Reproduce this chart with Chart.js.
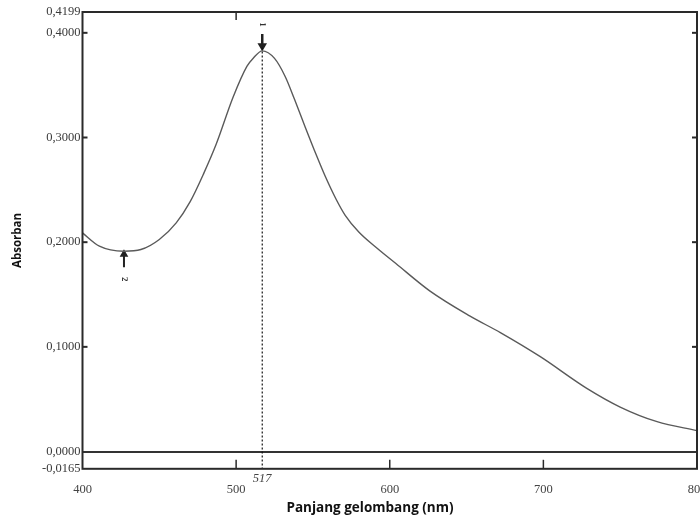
<!DOCTYPE html>
<html>
<head>
<meta charset="utf-8">
<script src="https://cdn.jsdelivr.net/npm/chart.js@4"></script>
<style>
  html, body { margin: 0; padding: 0; background: #fff; overflow: hidden; }
  #wrap { width: 740px; height: 521px; }
</style>
</head>
<body>
<div id="wrap"><canvas id="chartjs" width="740" height="521"></canvas></div>
<script>
// spectrum: wavelength (nm) vs absorbance
const wavelength = [400, 411, 427, 438, 450, 461, 470, 479, 487, 498, 507, 511, 517, 525, 532, 538, 545, 552, 558, 565, 571, 580, 591, 604, 626, 652, 672, 698, 728, 750, 774, 800]
const absorban   = [0.2089, 0.1962, 0.1914, 0.193, 0.2026, 0.2185, 0.2385, 0.266, 0.2935, 0.3385, 0.368, 0.3755, 0.3828, 0.3756, 0.3581, 0.3365, 0.3099, 0.284, 0.263, 0.2413, 0.2257, 0.2095, 0.1952, 0.1796, 0.1535, 0.1296, 0.1136, 0.0906, 0.0606, 0.0425, 0.0285, 0.020]

const xTicks = [400, 500, 517, 600, 700, 800]
const yTicks = [-0.0165, 0, 0.1, 0.2, 0.3, 0.4, 0.4199]
const peakX = 517

// marker arrows (1 = peak, 2 = minimum)
const arrow1 = [[517, 0.399], [517, 0.3875]]
const arrow2 = [[427, 0.176], [427, 0.1885]]
const markerLabels = [["1", 517, 0.408], ["2", 427, 0.1646]]

// inner tick marks on the frame
const innerYTicks = [0.1, 0.2, 0.3, 0.4]
const innerXTicks = [500, 600, 700]

function fmt(v) {
  return v.toFixed(4).replace('.', ',')
}

const frame = {
  id: 'frame',
  afterDatasetsDraw(chart) {
    const ctx = chart.ctx
    const a = chart.chartArea
    const xs = chart.scales.x, ys = chart.scales.y
    ctx.save()
    ctx.strokeStyle = '#2a2a2a'
    ctx.lineWidth = 2
    ctx.strokeRect(a.left, a.top, a.right - a.left, a.bottom - a.top)

    innerYTicks.forEach(v => {
      const p = ys.getPixelForValue(v)
      ctx.beginPath(); ctx.moveTo(a.left, p); ctx.lineTo(a.left + 5, p); ctx.stroke()
      ctx.beginPath(); ctx.moveTo(a.right, p); ctx.lineTo(a.right - 5, p); ctx.stroke()
    })
    ctx.lineWidth = 1.5
    innerXTicks.forEach(v => {
      const p = xs.getPixelForValue(v)
      ctx.beginPath(); ctx.moveTo(p, a.bottom); ctx.lineTo(p, a.bottom - 9); ctx.stroke()
    })
    const t = xs.getPixelForValue(500)
    ctx.beginPath(); ctx.moveTo(t, a.top); ctx.lineTo(t, a.top + 8); ctx.stroke()

    // the small rotated numbers next to the arrows
    ctx.fillStyle = '#333'
    ctx.font = 'bold 9px "Liberation Serif"'
    ctx.textAlign = 'center'
    ctx.textBaseline = 'middle'
    markerLabels.forEach(m => {
      ctx.save()
      ctx.translate(xs.getPixelForValue(m[1]), ys.getPixelForValue(m[2]))
      ctx.rotate(Math.PI / 2)
      ctx.fillText(m[0], 0, 0)
      ctx.restore()
    })
    ctx.restore()
  }
}

const toPts = arr => arr.map(p => ({x: p[0], y: p[1]}))

const config = {
  type: 'scatter',
  data: {
    datasets: [
      {
        data: wavelength.map((w, i) => ({x: w, y: absorban[i]})),
        showLine: true,
        borderColor: '#5a5a5a',
        borderWidth: 1.4,
        pointRadius: 0,
        cubicInterpolationMode: 'monotone'
      },
      {
        data: [{x: peakX, y: 0.386}, {x: peakX, y: -0.0165}],
        showLine: true,
        borderColor: '#111',
        borderWidth: 1.2,
        borderDash: [2, 2],
        pointRadius: 0
      },
      {
        data: toPts(arrow1),
        showLine: true,
        borderColor: '#222',
        borderWidth: 2.5,
        pointRadius: [0, 3],
        pointStyle: 'triangle',
        rotation: 180,
        backgroundColor: '#222'
      },
      {
        data: toPts(arrow2),
        showLine: true,
        borderColor: '#222',
        borderWidth: 2,
        pointRadius: [0, 3],
        pointStyle: 'triangle',
        rotation: 0,
        backgroundColor: '#222'
      }
    ]
  },
  options: {
    responsive: false,
    animation: false,
    events: [],
    layout: { padding: { top: 12, left: 0, right: 0, bottom: 0 } },
    plugins: {
      legend: { display: false },
      tooltip: { enabled: false },
      title: {
        display: true,
        position: 'bottom',
        text: 'Panjang gelombang (nm)',
        color: '#111',
        font: { family: 'Open Sans', size: 13.5, weight: 'bold' },
        padding: { top: 0, bottom: 5 }
      }
    },
    scales: {
      x: {
        type: 'linear',
        min: 400,
        max: 800,
        afterBuildTicks: s => { s.ticks = xTicks.map(v => ({value: v})) },
        afterFit: s => { s.height = 31 },
        grid: { display: false },
        border: { display: false },
        ticks: {
          autoSkip: false,
          maxRotation: 0,
          padding: 0,
          color: '#444',
          callback: v => String(v),
          font: c => c.tick && c.tick.value === peakX
            ? { family: 'Liberation Serif', size: 12.5, style: 'italic', lineHeight: 0.32 }
            : { family: 'Liberation Serif', size: 12.5, lineHeight: 2.08 }
        }
      },
      y: {
        min: -0.0165,
        max: 0.4199,
        afterBuildTicks: s => { s.ticks = yTicks.map(v => ({value: v})) },
        afterFit: s => { s.width = 82.5 },
        grid: {
          drawTicks: false,
          color: c => c.tick && c.tick.value === 0 ? '#333' : 'rgba(0,0,0,0)',
          lineWidth: 2
        },
        border: { display: false },
        ticks: {
          autoSkip: false,
          padding: 2,
          color: '#3a3a3a',
          font: { family: 'Liberation Serif', size: 12.5 },
          callback: v => fmt(v)
        },
        title: {
          display: true,
          text: 'Absorban',
          color: '#111',
          font: { family: 'Open Sans', size: 11.5, weight: 'bold' },
          padding: { top: 11, bottom: 0 }
        }
      },
      y2: {
        position: 'right',
        min: 0,
        max: 1,
        afterFit: s => { s.width = 43 },
        grid: { display: false },
        border: { display: false },
        ticks: { display: false }
      }
    }
  },
  plugins: [frame]
}

window.onload = function() {
  const ctx = document.getElementById('chartjs').getContext('2d')
  new Chart(ctx, config)
}
</script>
</body>
</html>
